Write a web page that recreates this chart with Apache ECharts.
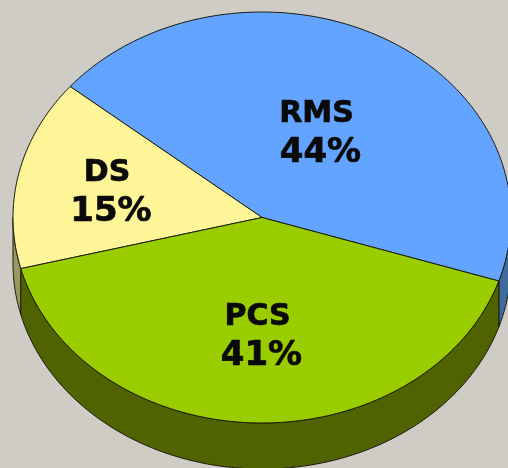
<!DOCTYPE html>
<html lang="en">
<head>
<meta charset="UTF-8">
<title>RMS PCS DS</title>
<script src="https://cdnjs.cloudflare.com/ajax/libs/echarts/6.0.0/echarts.min.js"></script>
<style>
  html, body { margin: 0; padding: 0; background: #cfccc6; }
  #chart { width: 508px; height: 468px; }
</style>
</head>
<body>
<div id="chart"></div>
<script>
// data, counter clockwise starting at the RMS/PCS edge
var categories = ["RMS", "DS", "PCS"];
var shares = [44, 15, 41];
var topColors = ["#62a4ff", "#fef498", "#9acd00"];
var wallColors = ["#3f6a9e", "#9b975e", "#4f6400"];

// layout of the tilted pie
var cx = 262, cy = 217.5, rx = 249, ry = 205.5, depth = 46;
var startDeg = -18;
var labelAt = [[320.5, 133.5], [111, 193], [261.5, 337]];
var edgeColor = "#1c1c12";

var total = shares.reduce(function (a, b) { return a + b; }, 0);

function pointAt(deg, drop) {
  var a = deg * Math.PI / 180;
  return [cx + rx * Math.cos(a), cy - ry * Math.sin(a) + drop];
}

function arc(from, to, drop) {
  var pts = [];
  var steps = Math.max(2, Math.ceil(Math.abs(to - from) / 1.5));
  for (var i = 0; i <= steps; i++) {
    pts.push(pointAt(from + (to - from) * i / steps, drop));
  }
  return pts;
}

function renderSlice(params, api) {
  var i = params.dataIndex;
  var before = 0;
  for (var k = 0; k < i; k++) before += shares[k];
  var from = startDeg + before / total * 360;
  var to = from + api.value(0) / total * 360;
  var children = [];

  // side wall only where the rim faces the viewer (180..360 deg)
  var ranges = [[from, to], [from - 360, to - 360]];
  ranges.forEach(function (r) {
    var a = Math.max(r[0], -180), b = Math.min(r[1], 0);
    if (b <= a) return;
    var pts = arc(a, b, 0).concat(arc(b, a, depth));
    children.push({
      type: "polygon",
      z2: 1,
      shape: { points: pts },
      style: { fill: wallColors[i], stroke: edgeColor, lineWidth: 1 }
    });
  });

  var topPts = [[cx, cy]].concat(arc(from, to, 0));
  children.push({
    type: "polygon",
    z2: 2,
    shape: { points: topPts },
    style: { fill: topColors[i], stroke: edgeColor, lineWidth: 1 }
  });

  children.push({
    type: "text",
    z2: 3,
    x: labelAt[i][0],
    y: labelAt[i][1],
    style: {
      text: "{name|" + categories[i] + "}\n{pct|" + api.value(0) + "%}",
      align: "center",
      verticalAlign: "middle",
      rich: {
        name: {
          fontFamily: "DejaVu Sans", fontWeight: "bold", fontSize: 30, lineHeight: 39,
          fill: "#0a0a0a", stroke: "#0a0a0a", lineWidth: 0.7, padding: [0, 8, 0, 0]
        },
        pct: {
          fontFamily: "DejaVu Sans", fontWeight: "bold", fontSize: 34, lineHeight: 39,
          fill: "#0a0a0a", stroke: "#0a0a0a", lineWidth: 0.7
        }
      }
    }
  });
  return { type: "group", children: children };
}

var myChart = echarts.init(document.getElementById("chart"));
var option = {
  backgroundColor: "#cfccc6",
  animation: false,
  series: [{
    type: "custom",
    coordinateSystem: "none",
    renderItem: renderSlice,
    data: shares.map(function (v) { return [v]; })
  }]
};
myChart.setOption(option);
</script>
</body>
</html>
